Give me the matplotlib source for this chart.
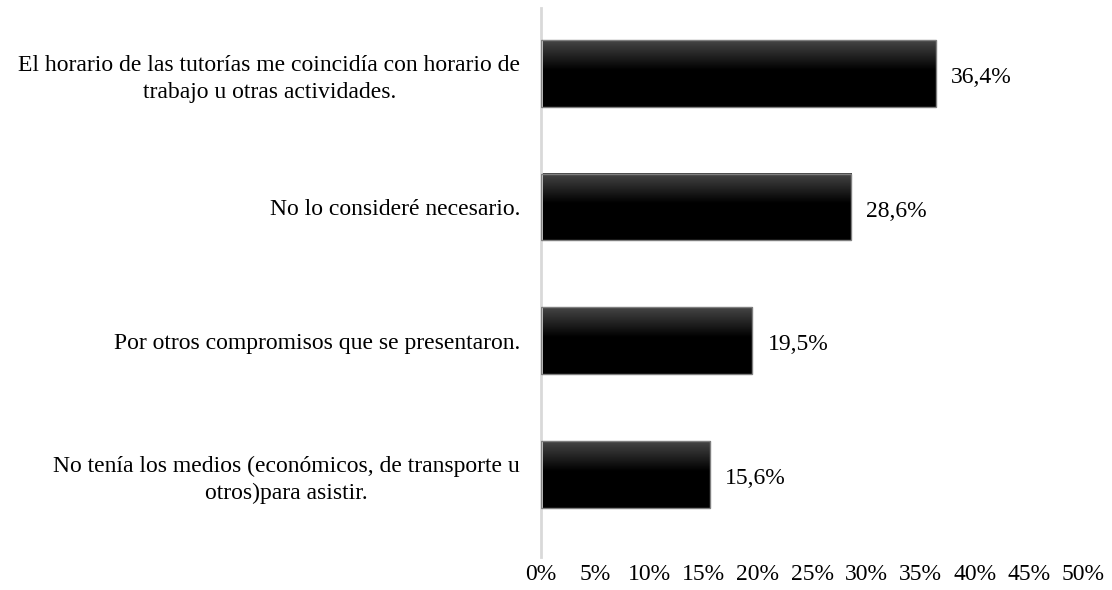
import numpy as np
import matplotlib.pyplot as plt
from matplotlib.colors import LinearSegmentedColormap

plt.rcParams['font.family'] = ['Liberation Serif', 'DejaVu Serif']

motivos = [
    "No tenía los medios (económicos, de transporte u\notros)para asistir.",
    "Por otros compromisos que se presentaron.",
    "No lo consideré necesario.",
    "El horario de las tutorías me coincidía con horario de\ntrabajo u otras actividades.",
]
porcentajes = [15.6, 19.5, 28.6, 36.4]
etiquetas = ["15,6%", "19,5%", "28,6%", "36,4%"]
ticks_x = [0, 5, 10, 15, 20, 25, 30, 35, 40, 45, 50]

fig = plt.figure(figsize=(11.12, 5.9), dpi=100)
ax = fig.add_axes([541 / 1112, 1 - 557 / 590, (1083 - 541) / 1112, (557 - 8) / 590])

pos = np.arange(len(motivos))
alto = 0.5
barras = ax.barh(pos, porcentajes, height=alto, color='none', edgecolor='#7f7f7f', linewidth=1, zorder=3)

# degradado gris -> negro en cada barra
cmap = LinearSegmentedColormap.from_list('grad', [(0, '#454545'), (0.45, '#000000'), (1, '#000000')])
grad = np.linspace(0, 1, 100).reshape(-1, 1)
for b in barras:
    x0, y0 = b.get_x(), b.get_y()
    w, h = b.get_width(), b.get_height()
    ax.imshow(grad, cmap=cmap, aspect='auto', extent=[x0, x0 + w, y0, y0 + h], origin='upper', zorder=2)

for p, v, t in zip(pos, porcentajes, etiquetas):
    ax.text(v + 1.4, p - 0.03, t, va='center', ha='left', fontsize=17)

ax.set_xlim(0, 50)
ax.set_ylim(-0.62, 3.49)
ax.set_yticks(pos)
ax.set_yticklabels(motivos, fontsize=17, linespacing=1.35, ha='right', multialignment='center')
ax.tick_params(axis='y', length=0, pad=15)
ax.set_xticks(ticks_x)
ax.set_xticklabels([f"{t}%" for t in ticks_x], fontsize=17)
ax.tick_params(axis='x', length=0, pad=5)

for s in ['top', 'right', 'bottom']:
    ax.spines[s].set_visible(False)
ax.spines['left'].set_color('#d9d9d9')
ax.spines['left'].set_linewidth(2)

fig.savefig('out.png', dpi=100)
